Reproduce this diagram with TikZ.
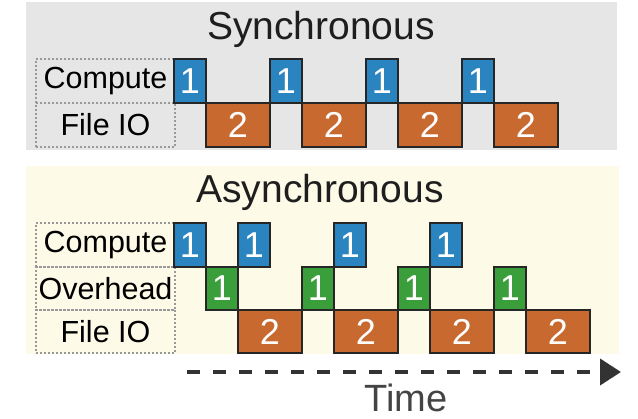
\documentclass[tikz,border=0pt]{standalone}
\usepackage{fontspec}
\setmainfont{Liberation Sans}
\usetikzlibrary{arrows.meta}
\definecolor{cblue}{HTML}{2A84C0}
\definecolor{cgreen}{HTML}{3A9E3A}
\definecolor{corange}{HTML}{C86A30}
\definecolor{syncbg}{HTML}{E6E6E6}
\definecolor{asyncbg}{HTML}{FEFAE8}
\definecolor{titlecol}{HTML}{1E1E1E}
\definecolor{timecol}{HTML}{444444}
\tikzset{
  blk/.style={draw=black!85, line width=1.6pt, inner sep=0pt, outer sep=0pt, anchor=north west,
    text=white, font=\fontsize{36}{36}\selectfont, minimum height=44pt},
  bbox/.style={blk, fill=cblue, minimum width=32pt},
  gbox/.style={blk, fill=cgreen, minimum width=32pt},
  obox/.style={blk, fill=corange, minimum width=64pt},
  lbl/.style={draw=gray!80, line width=1.2pt, dash pattern=on 2pt off 2pt, inner sep=0pt, outer sep=0pt,
    anchor=north west, minimum width=139pt, minimum height=44pt, font=\fontsize{30.5}{30.5}\selectfont, text=black},
  ttl/.style={anchor=base, font=\fontsize{39}{39}\selectfont, text=titlecol},
}
\begin{document}
\begin{tikzpicture}[x=1pt,y=-1pt]
\useasboundingbox (0,0) rectangle (638,419);
% panels
\fill[syncbg] (26,2) rectangle (617,150);
\fill[asyncbg] (26,166) rectangle (619,354);
% titles
\node[ttl] (tsync) at (321,40) {Synchronous};
\node[ttl] (tasync) at (320,203) {Asynchronous};
% sync labels
\node[lbl] (sc) at (36,59) {Compute};
\node[lbl, minimum height=44pt] (sf) at (36,103) {File IO};
% sync blocks (unit 32, x0 = 174)
\node[bbox] (s1a) at (174,59) {1};
\node[obox] (s2a) at (206,103) {2};
\node[bbox] (s1b) at (270,59) {1};
\node[obox] (s2b) at (302,103) {2};
\node[bbox] (s1c) at (366,59) {1};
\node[obox] (s2c) at (398,103) {2};
\node[bbox] (s1d) at (462,59) {1};
\node[obox] (s2d) at (494,103) {2};
% async labels
\node[lbl] (ac) at (36,223) {Compute};
\node[lbl, minimum height=43pt] (ao) at (36,267) {Overhead};
\node[lbl, minimum height=43pt] (af) at (36,310) {File IO};
% async blocks
\node[bbox] (a1a) at (174,223) {1};
\node[bbox] (a1b) at (238,223) {1};
\node[bbox] (a1c) at (334,223) {1};
\node[bbox] (a1d) at (430,223) {1};
\node[gbox, minimum height=43pt] (g1a) at (206,267) {1};
\node[gbox, minimum height=43pt] (g1b) at (302,267) {1};
\node[gbox, minimum height=43pt] (g1c) at (398,267) {1};
\node[gbox, minimum height=43pt] (g1d) at (494,267) {1};
\node[obox, minimum height=43pt] (a2a) at (238,310) {2};
\node[obox, minimum height=43pt] (a2b) at (334,310) {2};
\node[obox, minimum height=43pt] (a2c) at (430,310) {2};
\node[obox, minimum height=43pt] (a2d) at (526,310) {2};
% time arrow
\coordinate (tstart) at (187,372);
\coordinate (tend) at (621,372);
\draw[line width=4pt, color=black!80, dash pattern=on 13pt off 13pt,
  -{Triangle[length=21pt,width=26pt]}] (tstart) -- (tend);
\node[anchor=base, font=\fontsize{38}{38}\selectfont, text=timecol] (time) at (406,412) {Time};
\end{tikzpicture}
\end{document}
